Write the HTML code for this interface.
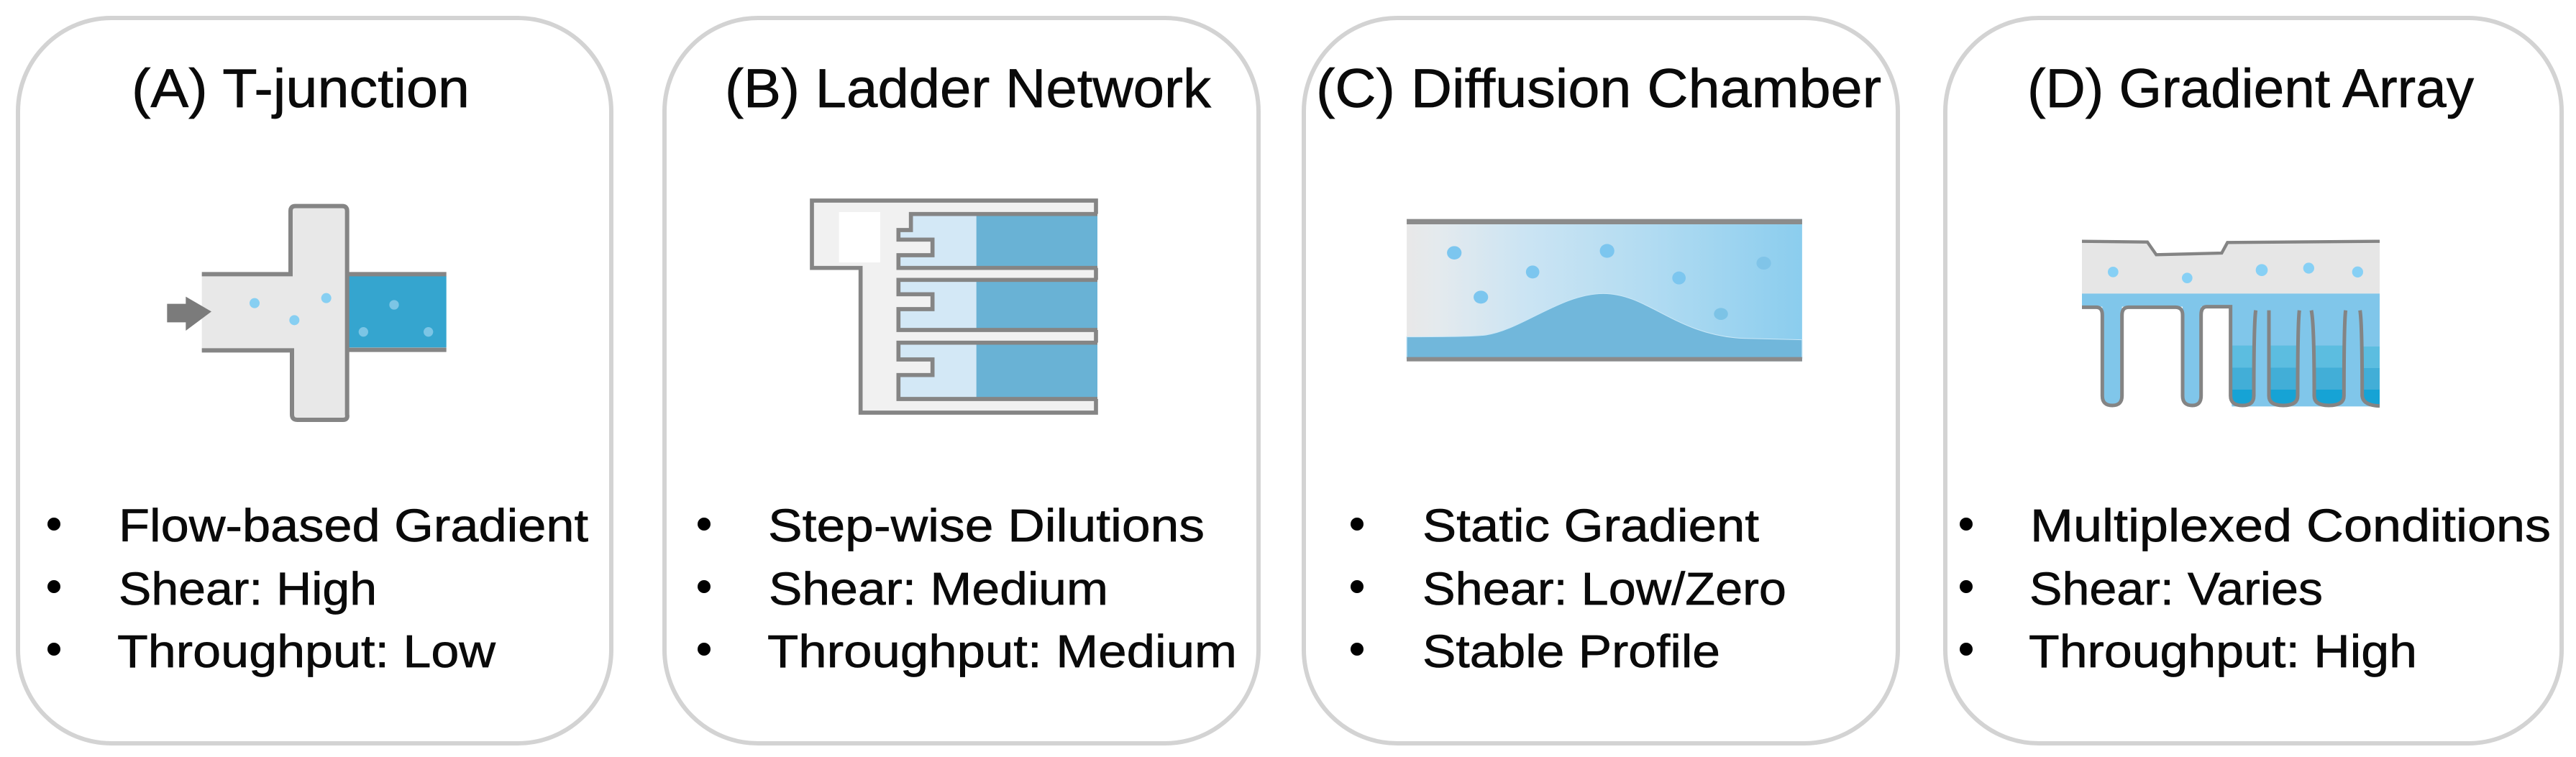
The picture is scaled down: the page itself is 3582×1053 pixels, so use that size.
<!DOCTYPE html>
<html lang="en">
<head>
<meta charset="utf-8">
<title>Gradient device comparison</title>
<style>
html,body{margin:0;padding:0;background:#fff;width:3582px;height:1053px;overflow:hidden}
svg{display:block}
text{font-family:"Liberation Sans",sans-serif;fill:#0a0a0a;stroke:#0a0a0a;stroke-width:.7px}
.t{font-size:76px}
.b{font-size:64px}
</style>
</head>
<body>
<svg xmlns="http://www.w3.org/2000/svg" width="3582" height="1053" viewBox="0 0 3582 1053">
<defs>
<linearGradient id="cg" x1="0" x2="1" y1="0" y2="0">
<stop offset="0" stop-color="#e8e8e8"/><stop offset=".08" stop-color="#e4eaee"/><stop offset=".3" stop-color="#cbe4f3"/><stop offset=".6" stop-color="#b3dcf2"/><stop offset="1" stop-color="#8bcdee"/>
</linearGradient>
</defs>
<rect width="3582" height="1053" fill="#fff"/>

<!-- Panels -->
<g fill="none" stroke="#d3d3d3" stroke-width="6">
<rect x="25" y="25" width="825" height="1009" rx="130"/>
<rect x="924" y="25" width="826" height="1009" rx="130"/>
<rect x="1813" y="25" width="826" height="1009" rx="130"/>
<rect x="2705" y="25" width="857" height="1009" rx="130"/>
</g>

<!-- Titles -->
<text class="t" x="183" y="149" textLength="470" lengthAdjust="spacingAndGlyphs">(A) T-junction</text>
<text class="t" x="1008" y="149" textLength="676" lengthAdjust="spacingAndGlyphs">(B) Ladder Network</text>
<text class="t" x="1830" y="149" textLength="786" lengthAdjust="spacingAndGlyphs">(C) Diffusion Chamber</text>
<text class="t" x="2819" y="149" textLength="621" lengthAdjust="spacingAndGlyphs">(D) Gradient Array</text>

<!-- Bullets -->
<g fill="#000">
<circle cx="75" cy="729" r="9"/><circle cx="75" cy="816" r="9"/><circle cx="75" cy="903" r="9"/>
<circle cx="979" cy="729" r="9"/><circle cx="979" cy="816" r="9"/><circle cx="979" cy="903" r="9"/>
<circle cx="1887" cy="729" r="9"/><circle cx="1887" cy="816" r="9"/><circle cx="1887" cy="903" r="9"/>
<circle cx="2734" cy="729" r="9"/><circle cx="2734" cy="816" r="9"/><circle cx="2734" cy="903" r="9"/>
</g>
<text class="b" x="165" y="753" textLength="653" lengthAdjust="spacingAndGlyphs">Flow-based Gradient</text>
<text class="b" x="165" y="841" textLength="359" lengthAdjust="spacingAndGlyphs">Shear: High</text>
<text class="b" x="163" y="928" textLength="526" lengthAdjust="spacingAndGlyphs">Throughput: Low</text>
<text class="b" x="1068" y="753" textLength="607" lengthAdjust="spacingAndGlyphs">Step-wise Dilutions</text>
<text class="b" x="1069" y="841" textLength="472" lengthAdjust="spacingAndGlyphs">Shear: Medium</text>
<text class="b" x="1067" y="928" textLength="653" lengthAdjust="spacingAndGlyphs">Throughput: Medium</text>
<text class="b" x="1978" y="753" textLength="468" lengthAdjust="spacingAndGlyphs">Static Gradient</text>
<text class="b" x="1978" y="841" textLength="506" lengthAdjust="spacingAndGlyphs">Shear: Low/Zero</text>
<text class="b" x="1978" y="928" textLength="414" lengthAdjust="spacingAndGlyphs">Stable Profile</text>
<text class="b" x="2823" y="753" textLength="724" lengthAdjust="spacingAndGlyphs">Multiplexed Conditions</text>
<text class="b" x="2822" y="841" textLength="408" lengthAdjust="spacingAndGlyphs">Shear: Varies</text>
<text class="b" x="2821" y="928" textLength="540" lengthAdjust="spacingAndGlyphs">Throughput: High</text>

<!-- Diagram A -->
<g transform="translate(200,260) scale(.33333)">
<path d="M242 363H612V100Q612 80 632 80H828Q848 80 848 100V355H1262V680H852V950Q852 972 830 972H640Q618 972 618 950V682H242Z" fill="#e8e8e8"/>
<rect x="848" y="372" width="414" height="298" fill="#35a5cf"/>
<g fill="none" stroke="#858585" stroke-width="18">
<path d="M242 364H612V100Q612 80 632 80H828Q848 80 848 100V950Q852 972 830 972H640Q618 972 618 950V682H242"/>
<path d="M848 364H1262M848 680H1262"/>
</g>
<path d="M97 488H175V458L282 520L175 600V565H97Z" fill="#7b7b7b"/>
<g fill="#87cff2">
<circle cx="462" cy="485" r="21"/><circle cx="628" cy="556" r="21"/><circle cx="761" cy="464" r="21"/>
</g>
<g fill="#7cc5e5">
<circle cx="1044" cy="492" r="20"/><circle cx="916" cy="605" r="20"/><circle cx="1187" cy="605" r="20"/>
</g>
</g>

<!-- Diagram B -->
<g transform="translate(1100,260) scale(.33333)">
<path d="M87 57H1272V942H290V338H87Z" fill="#f1f1f1"/>
<rect x="200" y="105" width="172" height="210" fill="#fff"/>
<g fill="#d3e8f6">
<path d="M500 113H773V338H448V285H590V220H448V180H500Z"/>
<path d="M448 388H773V597H448V510H590V448H448Z"/>
<path d="M448 650H773V885H448V785H590V720H448Z"/>
</g>
<g fill="#69b2d5">
<rect x="773" y="113" width="505" height="225"/>
<rect x="773" y="388" width="505" height="209"/>
<rect x="773" y="650" width="505" height="235"/>
</g>
<g fill="none" stroke="#858585" stroke-width="17">
<path d="M1272 113V57H87V338H290V942H1272V885"/>
<path d="M1272 338V388M1272 597V650"/>
<path d="M1278 113H500V180H448V220H590V285H448V338H1278"/>
<path d="M1278 388H448V448H590V510H448V597H1278"/>
<path d="M1278 650H448V720H590V785H448V885H1278"/>
</g>
</g>

<!-- Diagram C -->
<g transform="translate(1930,280) scale(.38911,.33333)">
<rect x="67" y="74" width="1413" height="594" fill="url(#cg)"/>
<path d="M67 566C200 565 300 565 350 558C480 535 620 385 770 385C930 385 1030 560 1270 572L1480 578V655H67Z" fill="#71b7db" stroke="#c9e7f7" stroke-width="3"/>
<rect x="67" y="74" width="1413" height="22" fill="#8b8b8b"/>
<rect x="67" y="650" width="1413" height="18" fill="#8b8b8b"/>
<g fill="#7cc6ef">
<ellipse cx="237" cy="215" rx="26" ry="28"/>
<ellipse cx="517" cy="295" rx="24" ry="27"/>
<ellipse cx="332" cy="400" rx="26" ry="27"/>
<ellipse cx="783" cy="207" rx="26" ry="29"/>
<ellipse cx="1040" cy="320" rx="24" ry="27"/>
<ellipse cx="1343" cy="258" rx="26" ry="27" fill="#80c4e8"/>
<ellipse cx="1190" cy="470" rx="25" ry="25" fill="#7cc3e6"/>
</g>
</g>

<!-- Diagram D -->
<g transform="translate(2880,310) scale(.33333)">
<path d="M45 75L318 80L355 135L628 128L652 82L1287 78V295H45Z" fill="#e6e6e6"/>
<path d="M45 295H1287V766H670V350H542V725Q542 762 505 762Q465 762 465 725V350H212V725Q212 762 172 762Q130 762 130 725V350H45Z" fill="#80c6ea"/>
<g fill="#5cbde0">
<rect x="672" y="512" width="88" height="92"/><rect x="830" y="512" width="116" height="92"/><rect x="1016" y="512" width="122" height="92"/><rect x="1216" y="516" width="71" height="90"/>
</g>
<g fill="#42aed7">
<rect x="672" y="604" width="88" height="92"/><rect x="830" y="604" width="116" height="92"/><rect x="1016" y="604" width="122" height="92"/><rect x="1216" y="606" width="71" height="90"/>
</g>
<g fill="#16a3d5">
<path d="M672 696H760V725Q755 758 715 758Q672 758 672 725Z"/>
<path d="M830 696H946V725Q940 758 885 758Q835 758 830 725Z"/>
<path d="M1016 696H1138V725Q1130 758 1075 758Q1020 758 1016 725Z"/>
<path d="M1216 696H1287V758Q1225 758 1216 725Z"/>
</g>
<g fill="none" stroke="#848484">
<path d="M45 77L318 80L355 133L628 126L652 82L1287 77" stroke-width="13"/>
<path stroke-width="15" d="M45 352H105Q130 352 130 385V722Q130 762 172 762Q212 762 212 722V385Q212 352 240 352H435Q465 352 465 385V722Q465 762 505 762Q542 762 542 722V385Q542 350 565 350H665V722Q665 762 715 762Q762 762 762 722Q762 420 770 365"/>
<path stroke-width="15" d="M825 365V722Q825 762 885 762Q945 762 945 722Q945 420 952 365"/>
<path stroke-width="15" d="M1002 365Q1014 420 1014 722Q1014 762 1075 762Q1138 762 1138 722Q1138 420 1145 365"/>
<path stroke-width="15" d="M1205 365Q1214 420 1214 722Q1218 762 1287 764"/>
</g>
<g fill="#87d0f5">
<circle cx="175" cy="205" r="22"/><circle cx="484" cy="230" r="22"/><circle cx="795" cy="197" r="25"/><circle cx="991" cy="189" r="23"/><circle cx="1195" cy="205" r="23"/>
</g>
</g>
</svg>
</body>
</html>
